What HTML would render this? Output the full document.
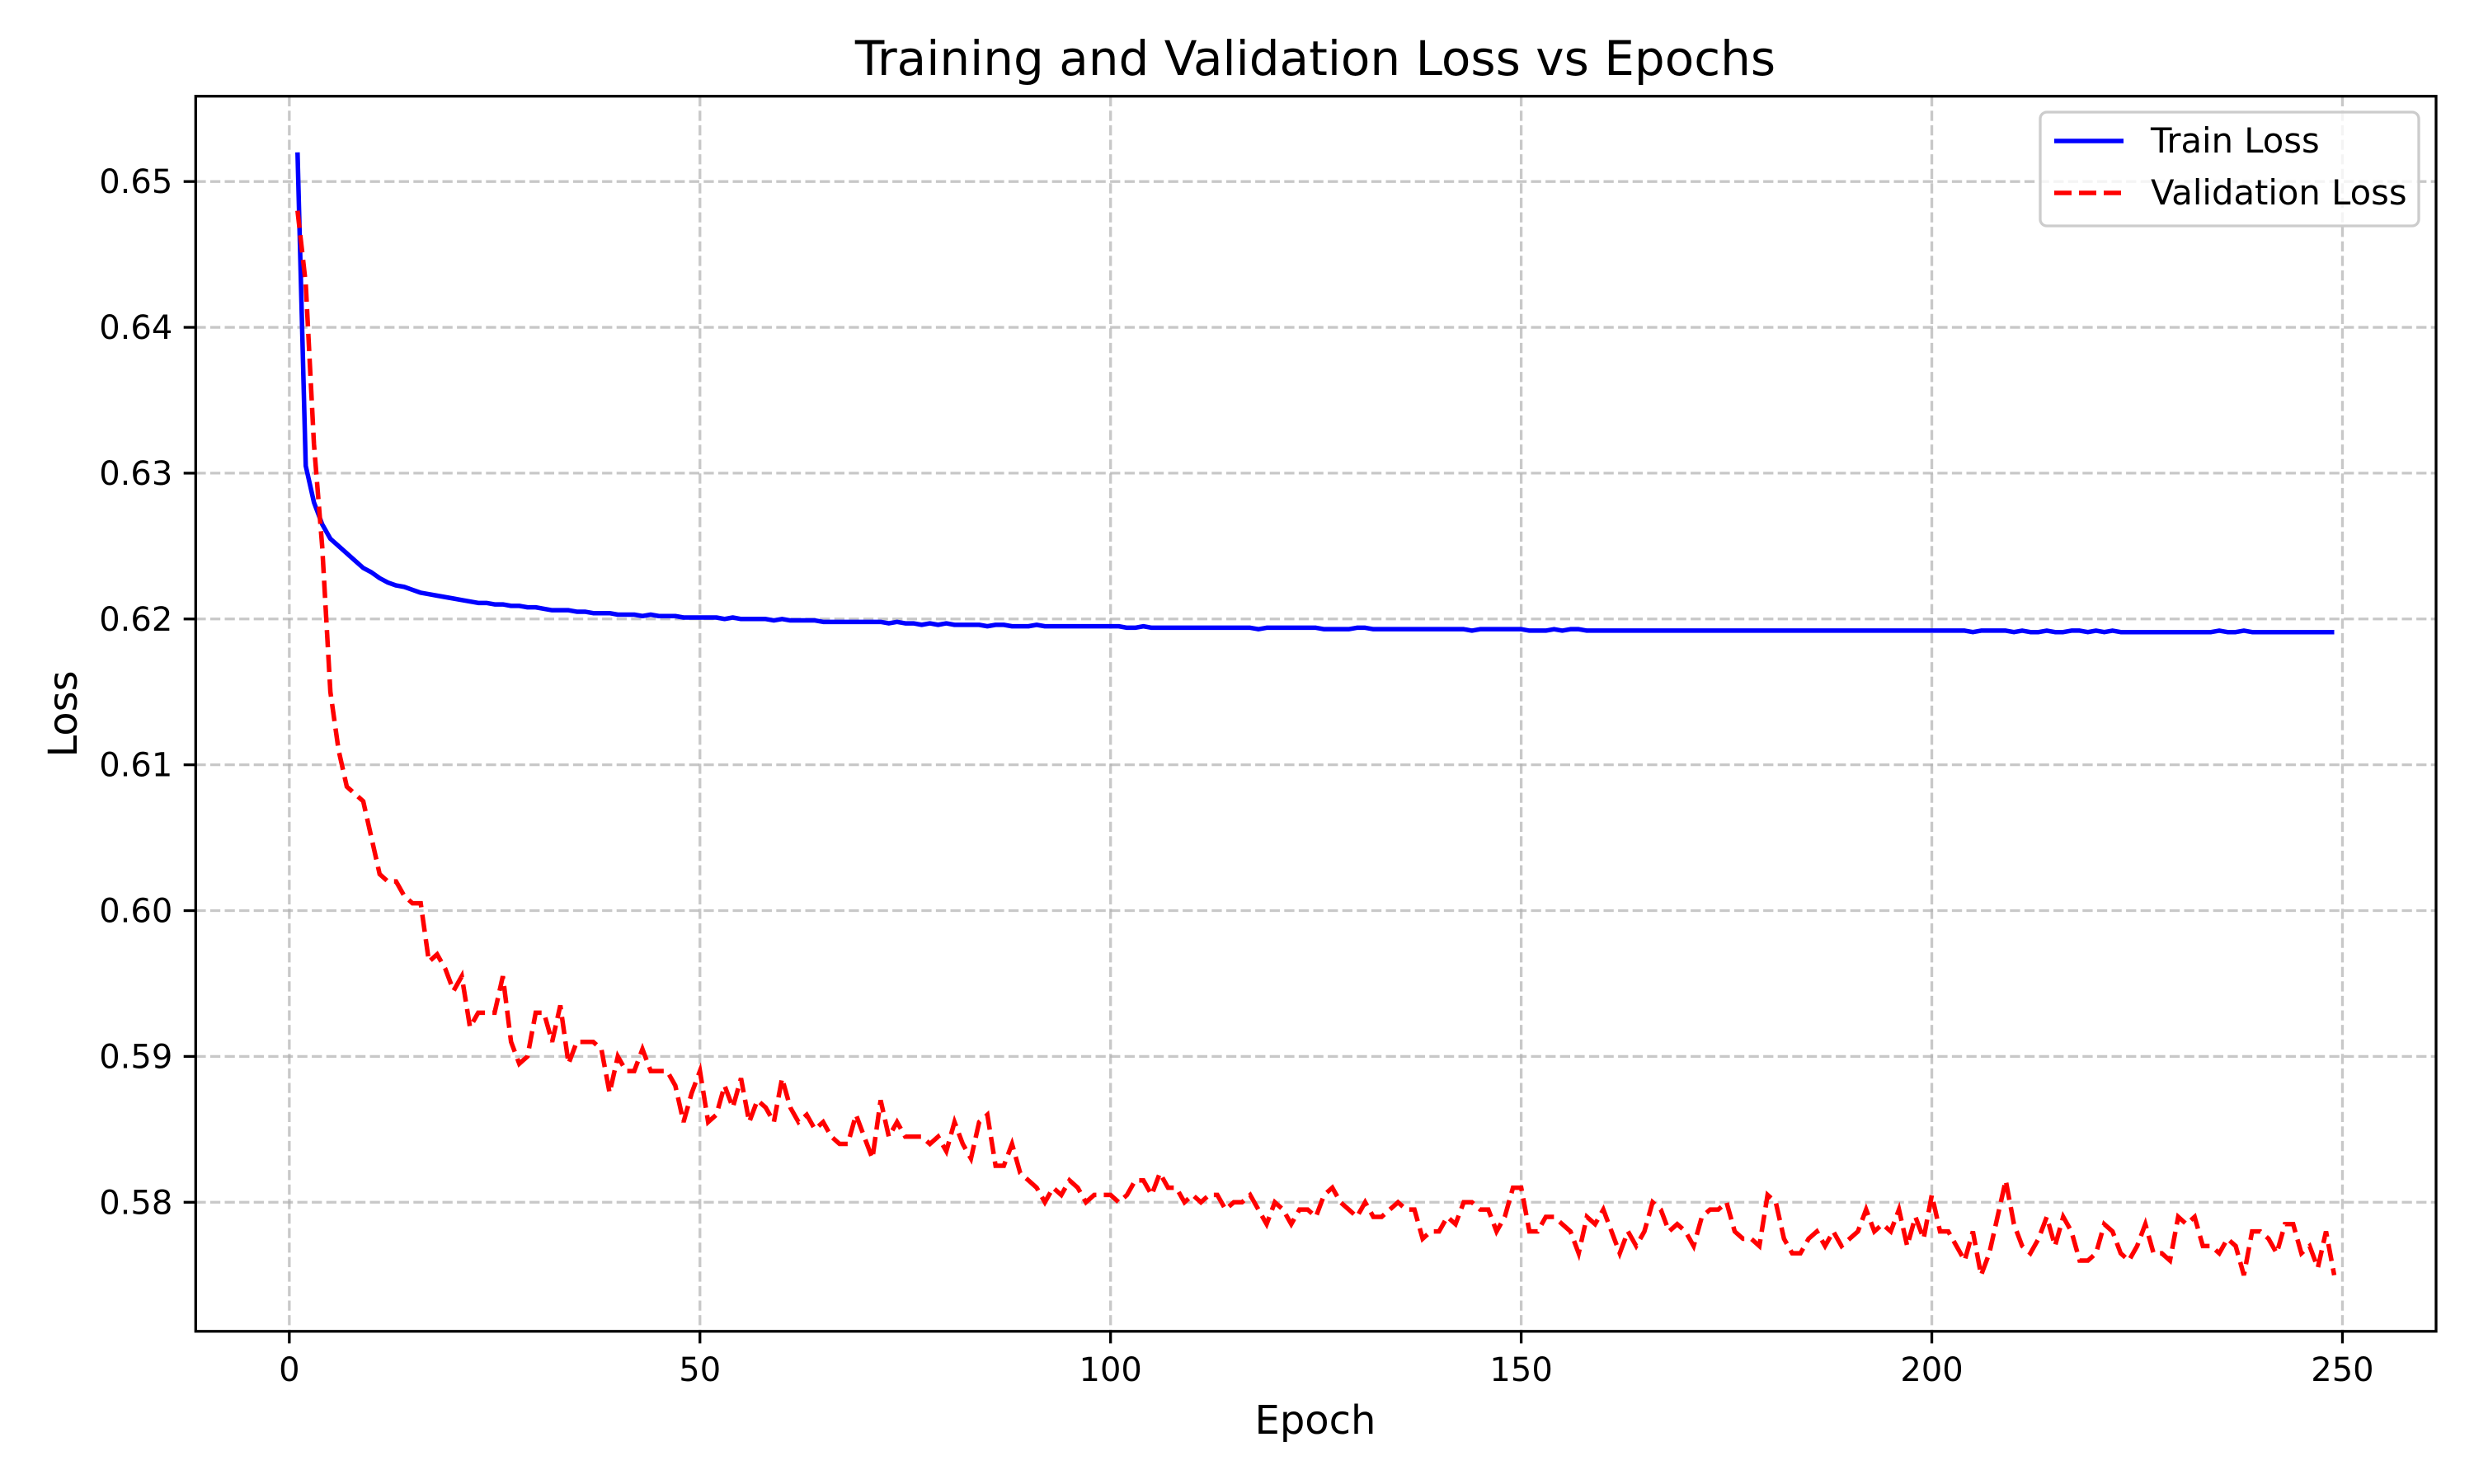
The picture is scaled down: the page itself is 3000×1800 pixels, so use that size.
<!DOCTYPE html>
<html><head><meta charset="utf-8"><style>
html,body{margin:0;padding:0;background:#fff;}
svg{display:block;font-family:"DejaVu Sans","Liberation Sans",sans-serif;}
</style></head><body>
<svg id="chart" width="3000" height="1800" viewBox="0 0 3000 1800" xmlns="http://www.w3.org/2000/svg">
<rect width="3000" height="1800" fill="#fff"/>
<text x="1595" y="91" font-size="58" text-anchor="middle">Training and Validation Loss vs Epochs</text>
<text x="1595" y="1739" font-size="48" text-anchor="middle">Epoch</text>
<text x="0" y="0" font-size="48" text-anchor="middle" transform="translate(93,866) rotate(-90)">Loss</text>
<g id="grid"></g>
<g id="series"></g>
<g id="axes"></g>
<g id="legend"></g>
</svg>
<script>
const trainLoss = [0.652,0.6305,0.628,0.6265,0.6255,0.625,0.6245,0.624,0.6235,0.6232,0.6228,0.6225,0.6223,
0.6222,0.622,0.6218,0.6217,0.6216,0.6215,0.6214,0.6213,0.6212,0.6211,0.6211,0.621,
0.621,0.6209,0.6209,0.6208,0.6208,0.6207,0.6206,0.6206,0.6206,0.6205,0.6205,0.6204,0.6204,0.6204,0.6203,
0.6203,0.6203,0.6202,0.6203,0.6202,0.6202,0.6202,0.6201,0.6201,0.6201,0.6201,0.6201,0.62,0.6201,0.62,0.62,0.62,0.62,0.6199,0.62,
0.6199,0.6199,0.6199,0.6199,0.6198,0.6198,0.6198,0.6198,0.6198,0.6198,0.6198,0.6198,0.6197,0.6198,0.6197,0.6197,0.6196,0.6197,0.6196,0.6197,
0.6196,0.6196,0.6196,0.6196,0.6195,0.6196,0.6196,0.6195,0.6195,0.6195,0.6196,0.6195,0.6195,0.6195,0.6195,0.6195,0.6195,0.6195,0.6195,0.6195,
0.6195,0.6194,0.6194,0.6195,0.6194,0.6194,0.6194,0.6194,0.6194,0.6194,0.6194,0.6194,0.6194,0.6194,0.6194,0.6194,0.6194,0.6193,0.6194,0.6194,
0.6194,0.6194,0.6194,0.6194,0.6194,0.6193,0.6193,0.6193,0.6193,0.6194,0.6194,0.6193,0.6193,0.6193,0.6193,0.6193,0.6193,0.6193,0.6193,0.6193,
0.6193,0.6193,0.6193,0.6192,0.6193,0.6193,0.6193,0.6193,0.6193,0.6193,0.6192,0.6192,0.6192,0.6193,0.6192,0.6193,0.6193,0.6192,0.6192,0.6192,
0.6192,0.6192,0.6192,0.6192,0.6192,0.6192,0.6192,0.6192,0.6192,0.6192,0.6192,0.6192,0.6192,0.6192,0.6192,0.6192,0.6192,0.6192,0.6192,0.6192,
0.6192,0.6192,0.6192,0.6192,0.6192,0.6192,0.6192,0.6192,0.6192,0.6192,0.6192,0.6192,0.6192,0.6192,0.6192,0.6192,0.6192,0.6192,0.6192,0.6192,
0.6192,0.6192,0.6192,0.6192,0.6191,0.6192,0.6192,0.6192,0.6192,0.6191,0.6192,0.6191,0.6191,0.6192,0.6191,0.6191,0.6192,0.6192,0.6191,0.6192,
0.6191,0.6192,0.6191,0.6191,0.6191,0.6191,0.6191,0.6191,0.6191,0.6191,0.6191,0.6191,0.6191,0.6191,0.6192,0.6191,0.6191,0.6192,0.6191,0.6191,0.6191,0.6191,0.6191,0.6191,0.6191,0.6191,0.6191,0.6191,0.6191];
const valLoss = [0.648,0.643,0.632,0.625,0.615,0.611,0.6085,0.608,0.6075,0.605,0.6025,0.602,0.602,0.601,0.6005,0.6005,0.5965,0.597,0.596,0.5945,
0.5955,0.592,0.593,0.593,0.593,0.5955,0.591,0.5895,0.59,0.593,0.593,0.591,0.5935,0.5895,0.591,0.591,0.591,0.5905,0.5875,0.59,
0.589,0.589,0.5905,0.589,0.589,0.589,0.588,0.5855,0.5875,0.589,0.5855,0.586,0.588,0.5865,0.5885,0.5855,0.587,0.5865,0.5855,0.5885,
0.5865,0.5855,0.586,0.585,0.5855,0.5845,0.584,0.584,0.586,0.5845,0.583,0.587,0.5845,0.5855,0.5845,0.5845,0.5845,0.584,0.5845,0.5835,
0.5855,0.584,0.583,0.5855,0.586,0.5825,0.5825,0.584,0.582,0.5815,0.581,0.58,0.581,0.5805,0.5815,0.581,0.58,0.5805,0.5805,0.5805,
0.58,0.5805,0.5815,0.5815,0.5805,0.582,0.581,0.581,0.58,0.5805,0.58,0.5805,0.5805,0.5795,0.58,0.58,0.5805,0.5795,0.5785,0.58,
0.5795,0.5785,0.5795,0.5795,0.579,0.5805,0.581,0.58,0.5795,0.579,0.58,0.579,0.579,0.5795,0.58,0.5795,0.5795,0.5775,0.578,0.578,
0.579,0.5785,0.58,0.58,0.5795,0.5795,0.578,0.579,0.581,0.581,0.578,0.578,0.579,0.579,0.5785,0.578,0.5765,0.579,0.5785,0.5795,
0.578,0.5765,0.578,0.577,0.578,0.58,0.5795,0.578,0.5785,0.578,0.577,0.579,0.5795,0.5795,0.58,0.578,0.5775,0.5775,0.577,0.5805,
0.58,0.5775,0.5765,0.5765,0.5775,0.578,0.577,0.578,0.577,0.5775,0.578,0.5795,0.578,0.5785,0.578,0.5795,0.577,0.579,0.5775,0.5805,
0.578,0.578,0.577,0.576,0.578,0.575,0.5765,0.579,0.5815,0.5785,0.577,0.5765,0.5775,0.579,0.577,0.579,0.578,0.576,0.576,0.5765,
0.5785,0.578,0.5765,0.576,0.577,0.5785,0.5765,0.5765,0.576,0.579,0.5785,0.579,0.577,0.577,0.5765,0.5775,0.577,0.575,0.578,0.578,
0.5775,0.5765,0.5785,0.5785,0.5765,0.577,0.5755,0.578,0.575];
const xTicks = [0,50,100,150,200,250];
const yTicks = [0.58,0.59,0.60,0.61,0.62,0.63,0.64,0.65];
const yTickLabels = ["0.58","0.59","0.60","0.61","0.62","0.63","0.64","0.65"];
const seriesNames = ["Train Loss","Validation Loss"];

const L=237.3,R=2954,T=116.7,B=1614.8;
const n=Math.max(trainLoss.length,valLoss.length);
const xMin=1-(n-1)*0.05, xMax=n+(n-1)*0.05;
const allV=trainLoss.concat(valLoss);
const vMin=Math.min(...allV), vMax=Math.max(...allV);
const yMin=vMin-(vMax-vMin)*0.05, yMax=vMax+(vMax-vMin)*0.05;
const sx=v=>L+(v-xMin)/(xMax-xMin)*(R-L);
const sy=v=>B-(v-yMin)/(yMax-yMin)*(B-T);
const NS='http://www.w3.org/2000/svg';
function mk(tag,attrs,parent){const e=document.createElementNS(NS,tag);for(const k in attrs)e.setAttribute(k,attrs[k]);parent.appendChild(e);return e;}
const grid=document.getElementById('grid'),axes=document.getElementById('axes'),ser=document.getElementById('series'),leg=document.getElementById('legend');
const FS=40;
xTicks.forEach(t=>{
  const x=sx(t);
  const g=mk('line',{x1:x,x2:x,y1:T,y2:B,stroke:'#b0b0b0','stroke-opacity':0.7,'stroke-width':3.3,'stroke-dasharray':'12.3 5.3'},grid);
  
  
  const tk=mk('line',{x1:x,x2:x,y1:B,y2:B+14.6,stroke:'#000','stroke-width':3.3},axes);
  
  
  const tx=mk('text',{x:x,y:B+60,'font-size':FS,'text-anchor':'middle'},axes);
  tx.textContent=String(t);
  
  
});
yTicks.forEach((t,i)=>{
  const y=sy(t);
  const g=mk('line',{x1:L,x2:R,y1:y,y2:y,stroke:'#b0b0b0','stroke-opacity':0.7,'stroke-width':3.3,'stroke-dasharray':'12.3 5.3'},grid);
  
  
  const tk=mk('line',{x1:L-14.6,x2:L,y1:y,y2:y,stroke:'#000','stroke-width':3.3},axes);
  
  
  const tx=mk('text',{x:L-28,y:y+14,'font-size':FS,'text-anchor':'end'},axes);
  tx.textContent=yTickLabels[i];
  
  
});
const frame=mk('rect',{x:L,y:T,width:R-L,height:B-T,fill:'none',stroke:'#000','stroke-width':3.3},axes);



function pts(arr){return arr.map((v,i)=>sx(i+1).toFixed(2)+','+sy(v).toFixed(2)).join(' ');}
const tl=mk('polyline',{points:pts(trainLoss),fill:'none',stroke:'#0000ff','stroke-width':5.5,'stroke-linejoin':'round'},ser);


const vl=mk('polyline',{points:pts(valLoss),fill:'none',stroke:'#ff0000','stroke-width':5.5,'stroke-dasharray':'21 9'},ser);



const box=mk('rect',{x:2474,y:136,width:459,height:138,rx:8,fill:'#fff','fill-opacity':0.8,stroke:'#cccccc','stroke-width':3.3},leg);


[['#0000ff',''],['#ff0000','21 9']].forEach((c,i)=>{
  const y=171+i*63;
  const ln=mk('line',{x1:2491,x2:2575,y1:y,y2:y,stroke:c[0],'stroke-width':5.5,'stroke-dasharray':c[1]||'none'},leg);
  
  
  const tx=mk('text',{x:2608,y:y+14,'font-size':41.7},leg);
  tx.textContent=seriesNames[i];
  
  
});
</script>
</body></html>
